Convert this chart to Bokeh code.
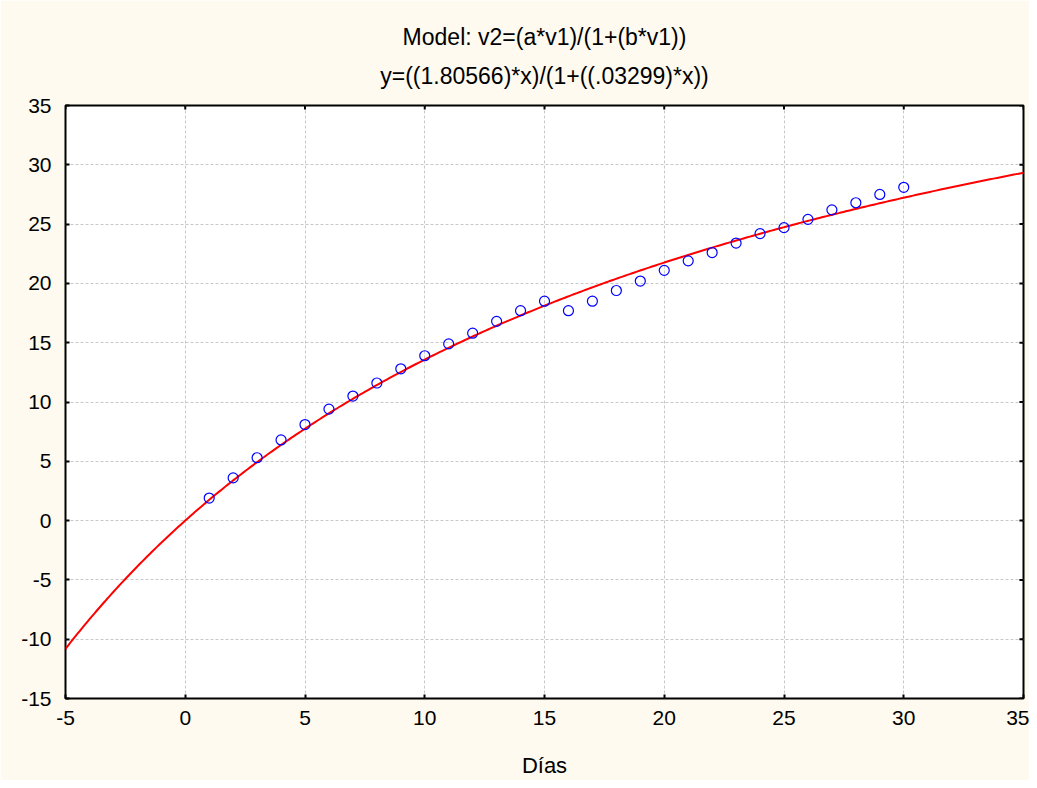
import numpy as np
from bokeh.plotting import figure
from bokeh.models import FixedTicker, ColumnDataSource, Title
from bokeh.embed import file_html
from bokeh.resources import INLINE

# Observed data
dias = [1, 2, 3, 4, 5, 6, 7, 8, 9, 10, 11, 12, 13, 14, 15,
        16, 17, 18, 19, 20, 21, 22, 23, 24, 25, 26, 27, 28, 29, 30]
v2 = [1.9, 3.6, 5.3, 6.8, 8.1, 9.4, 10.5, 11.6, 12.8, 13.9, 14.9, 15.8, 16.8, 17.7, 18.5,
      17.7, 18.5, 19.4, 20.2, 21.1, 21.9, 22.6, 23.4, 24.2, 24.7, 25.4, 26.2, 26.8, 27.5, 28.1]

# Fitted model parameters (from title)
a_par = 1.80566
b_par = 0.03299

title_lines = ["Model: v2=(a*v1)/(1+(b*v1))", "y=((1.80566)*x)/(1+((.03299)*x))"]
x_ticks = [-5, 0, 5, 10, 15, 20, 25, 30, 35]
y_ticks = [-15, -10, -5, 0, 5, 10, 15, 20, 25, 30, 35]
x_min, x_max = -5, 35
y_min, y_max = -15, 35

FONT = "Liberation Sans"
BG = "#fefaef"

p = figure(width=1029, height=780, output_backend="svg", toolbar_location=None,
           x_range=(x_min, x_max), y_range=(y_min, y_max),
           background_fill_color="white", border_fill_color=BG,
           min_border_left=65, min_border_right=6, min_border_top=105, min_border_bottom=81)

p.outline_line_color = "black"
p.outline_line_width = 2
p.title.visible = False

t2 = Title(text=title_lines[1], align="center",
           text_font=FONT, text_font_size="23px", text_font_style="normal",
           text_color="black", standoff=34)
t1 = Title(text=title_lines[0], align="center",
           text_font=FONT, text_font_size="23px", text_font_style="normal",
           text_color="black", standoff=-13)
p.add_layout(t2, "above")
p.add_layout(t1, "above")

for ax in (p.xaxis[0], p.yaxis[0]):
    ax.major_tick_in = 4
    ax.major_tick_out = 0
    ax.minor_tick_in = 0
    ax.minor_tick_out = 0
    ax.axis_line_color = None
    ax.major_tick_line_color = "black"
    ax.major_tick_line_width = 2
    ax.major_label_text_font = FONT
    ax.major_label_text_font_size = "21px"
    ax.major_label_text_color = "black"

p.xaxis[0].ticker = FixedTicker(ticks=x_ticks)
p.yaxis[0].ticker = FixedTicker(ticks=y_ticks)
p.xaxis[0].major_label_overrides = {t: str(t) for t in x_ticks}
p.yaxis[0].major_label_overrides = {t: str(t) for t in y_ticks}
p.xaxis[0].major_label_standoff = 12
p.yaxis[0].major_label_standoff = 14
p.xaxis[0].axis_label = "Días"
p.xaxis[0].axis_label_text_font = FONT
p.xaxis[0].axis_label_text_font_size = "22px"
p.xaxis[0].axis_label_text_font_style = "normal"
p.xaxis[0].axis_label_text_color = "black"
p.xaxis[0].axis_label_standoff = 25

# inward ticks on right and top edges
dx = 0.17
dy = 0.34
p.segment(x0=[x_max] * len(y_ticks), y0=y_ticks, x1=[x_max - dx] * len(y_ticks), y1=y_ticks,
          line_color="black", line_width=2)
p.segment(x0=x_ticks, y0=[y_max] * len(x_ticks), x1=x_ticks, y1=[y_max - dy] * len(x_ticks),
          line_color="black", line_width=2)

p.grid.grid_line_color = "#c8c8c8"
p.grid.grid_line_dash = "3 2"
p.grid.grid_line_width = 1
p.xgrid.ticker = FixedTicker(ticks=x_ticks)
p.ygrid.ticker = FixedTicker(ticks=y_ticks)

xs = np.linspace(x_min, x_max, 400)
ys = (a_par * xs) / (1 + b_par * xs)
p.line(xs, ys, line_color="red", line_width=2)

src = ColumnDataSource(dict(x=dias, y=v2))
p.scatter("x", "y", source=src, marker="circle", size=10, fill_color=None,
          line_color="blue", line_width=1.2)

open("out.html", "w").write(file_html(p, INLINE))
